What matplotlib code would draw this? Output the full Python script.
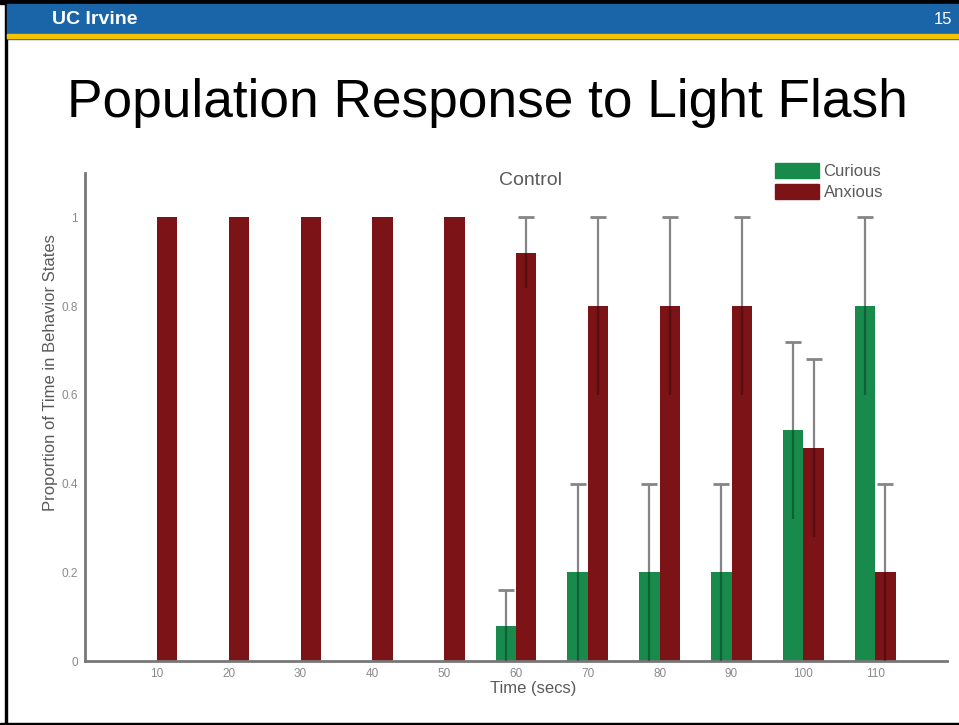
import numpy as np
import matplotlib
matplotlib.use('Agg')
import matplotlib.pyplot as plt
from matplotlib.patches import Rectangle, Patch

plt.rcParams['font.family'] = ['Liberation Sans', 'DejaVu Sans']

# data
times = [10, 20, 30, 40, 50, 60, 70, 80, 90, 100, 110]
curious = [0, 0, 0, 0, 0, 0.08, 0.2, 0.2, 0.2, 0.52, 0.8]
curious_err = [0, 0, 0, 0, 0, 0.08, 0.2, 0.2, 0.2, 0.2, 0.2]
anxious = [1, 1, 1, 1, 1, 0.92, 0.8, 0.8, 0.8, 0.48, 0.2]
anxious_err = [0, 0, 0, 0, 0, 0.08, 0.2, 0.2, 0.2, 0.2, 0.2]
yticks = [0, 0.2, 0.4, 0.6, 0.8, 1]
ytick_labels = ['0', '0.2', '0.4', '0.6', '0.8', '1']

green = '#188a4c'
red = '#7b1317'
err_color = '#858585'
text_gray = '#5a5a5a'

fig = plt.figure(figsize=(9.59, 7.25), dpi=100)

# slide frame and header
fig.patches.append(Rectangle((0, 1 - 4 / 725), 1, 4 / 725, transform=fig.transFigure, color='black'))
fig.patches.append(Rectangle((5 / 959, 0), 2 / 959, 1, transform=fig.transFigure, color='black'))
fig.patches.append(Rectangle((0, 0), 1, 2 / 725, transform=fig.transFigure, color='black'))
fig.patches.append(Rectangle((7 / 959, 1 - 39 / 725), 1, 35 / 725, transform=fig.transFigure, color='#1a64a8'))
fig.patches.append(Rectangle((7 / 959, 1 - 37.5 / 725), 1, 3 / 725, transform=fig.transFigure, color='#f5c400'))

fig.text(52 / 959, 1 - 20 / 725, 'UC Irvine', color='white', fontsize=14, fontweight='bold',
         ha='left', va='center')
fig.text(952 / 959, 1 - 20 / 725, '15', color='white', fontsize=12, ha='right', va='center')
fig.text(487 / 959, 1 - 103 / 725, 'Population Response to Light Flash', color='black',
         fontsize=38.3, ha='center', va='center')

ax = fig.add_axes([85 / 959, 64 / 725, 862 / 959, 488 / 725])

x = np.array(times, dtype=float)
w = 2.85
ax.bar(x - w / 2, curious, width=w, color=green, label='Curious', zorder=2)
ax.bar(x + w / 2, anxious, width=w, color=red, label='Anxious', zorder=2)

# error bars: upper half grey with cap, lower half shows as a darker line inside the bar
for xs, vals, errs in [(x - w / 2, curious, curious_err), (x + w / 2, anxious, anxious_err)]:
    vals = np.array(vals)
    errs = np.array(errs)
    m = errs > 0
    zero = np.zeros(m.sum())
    eb = ax.errorbar(xs[m], vals[m], yerr=[zero, errs[m]], fmt='none', ecolor=err_color,
                     elinewidth=1.6, capsize=6, capthick=2, zorder=3)
    eb[1][0].set_visible(False)  # hide the cap sitting on the bar top
    ax.errorbar(xs[m], vals[m], yerr=[errs[m], zero], fmt='none', ecolor='black', alpha=0.3,
                elinewidth=1.6, capsize=0, zorder=3)

ax.set_xlim(0, 120)
ax.set_ylim(0, 1.1)
ax.set_xticks(times)
ax.set_xticklabels([str(t) for t in times])
ax.set_yticks(yticks)
ax.set_yticklabels(ytick_labels)
ax.tick_params(length=0, labelsize=8.5, colors='#8a8a8a', pad=5)

for s in ['top', 'right']:
    ax.spines[s].set_visible(False)
for s in ['left', 'bottom']:
    ax.spines[s].set_color('#777777')
    ax.spines[s].set_linewidth(2)

ax.set_xlabel('Time (secs)', fontsize=12, color=text_gray)
ax.xaxis.set_label_coords(0.52, -0.041)
ax.set_ylabel('Proportion of Time in Behavior States', fontsize=12, color=text_gray)
ax.yaxis.set_label_coords(-0.031, 0.592)
ax.text(0.517, 0.984, 'Control', transform=ax.transAxes, fontsize=14, color=text_gray,
        ha='center', va='center')

handles = [Patch(color=green), Patch(color=red)]
ax.legend(handles, ['Curious', 'Anxious'], loc='upper left', bbox_to_anchor=(0.793, 1.035),
          frameon=False, fontsize=12, labelcolor=text_gray, handlelength=2.6, handleheight=1.0,
          handletextpad=0.3, labelspacing=0.3, borderaxespad=0)

fig.savefig('out.png', dpi=100)
